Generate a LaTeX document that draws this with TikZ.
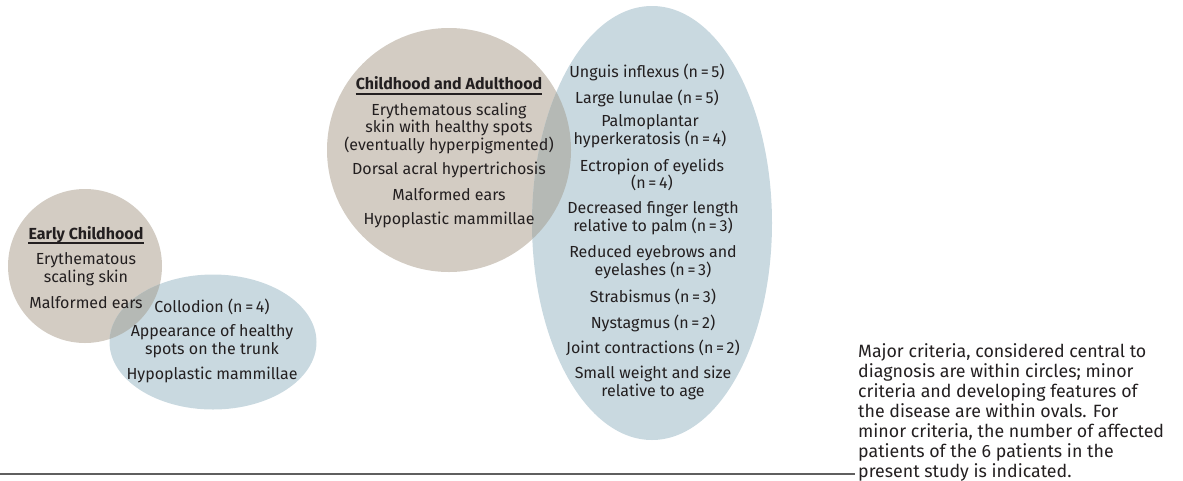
\documentclass[tikz,border=0pt]{standalone}
\usepackage{fontspec}
\setmainfont{Fira Sans}
\usetikzlibrary{shapes.geometric}
\definecolor{majorfill}{RGB}{211,204,195}
\definecolor{minorfill}{RGB}{201,217,224}
\definecolor{bothfill}{RGB}{181,185,181}
\definecolor{inktext}{RGB}{35,31,32}
\definecolor{rulegray}{RGB}{95,95,95}
\begin{document}
\begin{tikzpicture}[x=1pt, y=-1pt,
    major/.style={circle, fill=majorfill, inner sep=0pt},
    minor/.style={ellipse, fill=minorfill, inner sep=0pt},
    item/.style={align=center, text=inktext, inner sep=0pt, font=\fontsize{16}{17.5}\selectfont},
    head/.style={item, font=\fontsize{16}{17.5}\selectfont\bfseries},
    uline/.style={draw=inktext, line width=1.8pt},
    note/.style={align=left, text=inktext, inner sep=0pt, font=\fontsize{17.8}{20}\selectfont},
]
\useasboundingbox (0,0) rectangle (1183,480);
% circles (major criteria) and ovals (minor criteria)
\node[major, minimum size=154pt] (early) at (85,266) {};
\node[major, minimum size=244pt] (later) at (449,150) {};
\node[minor, minimum width=207pt, minimum height=135pt] (earlyminor) at (213,342) {};
\node[minor, minimum width=240pt, minimum height=434pt] (laterminor) at (652,223) {};
% darker where circle and oval overlap
\begin{scope}
  \clip (early.center) circle (77pt);
  \fill[bothfill] (earlyminor.center) ellipse (103.5pt and 67.5pt);
\end{scope}
\begin{scope}
  \clip (later.center) circle (122pt);
  \fill[bothfill] (laterminor.center) ellipse (120pt and 217pt);
\end{scope}

% early childhood
\node[head] (earlyhd) at (86,235) {Early Childhood};
\draw[uline] ([yshift=-3.5pt]earlyhd.base west) -- ([yshift=-3.5pt]earlyhd.base east);
\node[item] (e1) at (86,269) {Erythematous\\scaling skin};
\node[item] (e2) at (86,303) {Malformed ears};
\node[item] (m1) at (212,307) {Collodion (n\,=\,4)};
\node[item] (m2) at (212,341) {Appearance of healthy\\spots on the trunk};
\node[item] (m3) at (212,375) {Hypoplastic mammillae};

% childhood and adulthood
\node[head] (laterhd) at (449,83) {Childhood and Adulthood};
\draw[uline] ([yshift=-4.5pt]laterhd.base west) -- ([yshift=-4.5pt]laterhd.base east);
\node[item] (l1) at (449,128) {Erythematous scaling\\skin with healthy spots\\(eventually hyperpigmented)};
\node[item] (l2) at (449,170) {Dorsal acral hypertrichosis};
\node[item] (l3) at (449,195) {Malformed ears};
\node[item] (l4) at (449,220) {Hypoplastic mammillae};

\node[item] (n1) at (647,72) {Unguis inflexus (n\,=\,5)};
\node[item] (n2) at (647,98) {Large lunulae (n\,=\,5)};
\node[item] (n3) at (650,131) {Palmoplantar\\hyperkeratosis (n\,=\,4)};
\node[item] (n4) at (652,175) {Ectropion of eyelids\\(n\,=\,4)};
\node[item] (n5) at (653,218) {Decreased finger length\\relative to palm (n\,=\,3)};
\node[item] (n6) at (653,262) {Reduced eyebrows and\\eyelashes (n\,=\,3)};
\node[item] (n7) at (653,297) {Strabismus (n\,=\,3)};
\node[item] (n8) at (653,323) {Nystagmus (n\,=\,2)};
\node[item] (n9) at (653,348) {Joint contractions (n\,=\,2)};
\node[item] (n10) at (653,383) {Small weight and size\\relative to age};

% legend text and bottom rule
\node[note, anchor=west] (legend) at (858,412) {Major criteria, considered central to\\diagnosis are within circles; minor\\criteria and developing features of\\the disease are within ovals. For\\minor criteria, the number of affected\\patients of the 6 patients in the\\present study is indicated.};
\coordinate (ruleL) at (0,474);
\coordinate (ruleR) at (855,474);
\draw[rulegray, line width=1.5pt] (ruleL) -- (ruleR);
\end{tikzpicture}
\end{document}
